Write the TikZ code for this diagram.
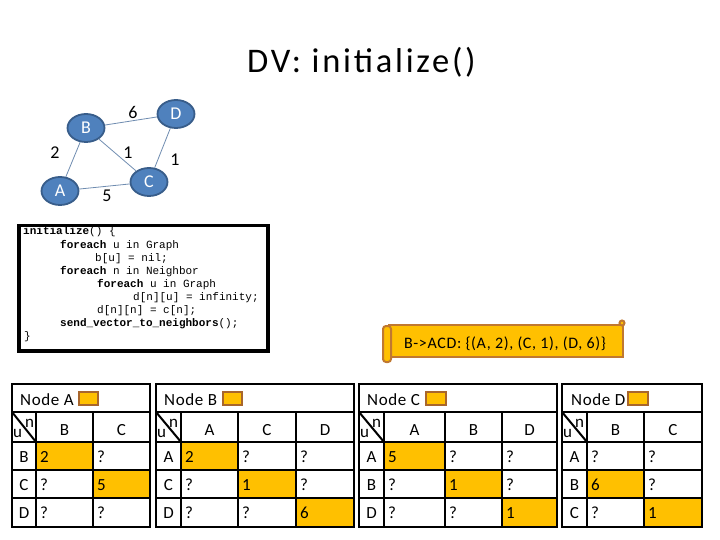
\documentclass[tikz,border=0pt]{standalone}
\usepackage{fontspec}
\setmainfont{Carlito}[LetterSpace=8]
\newfontfamily\tabfont{Carlito}[LetterSpace=3.5]
\newfontfamily\msgfont{Carlito}[LetterSpace=4]
\newfontfamily\codefont{Liberation Mono}
\usetikzlibrary{shapes.geometric}
\definecolor{nodeblue}{HTML}{4F81BD}
\definecolor{nodeborder}{HTML}{385D8A}
\definecolor{edgec}{HTML}{6F8CB0}
\definecolor{hl}{HTML}{FFC000}
\definecolor{scrollbrown}{HTML}{C07830}
\definecolor{iconbrown}{HTML}{A8662C}
\tikzset{
  titlef/.style={inner sep=0pt, font=\fontsize{34.5}{34.5}\selectfont},
  gnode/.style={ellipse, draw=nodeborder, line width=1.8pt, fill=nodeblue, minimum width=37pt, minimum height=28pt, inner sep=0pt, text=white, font=\fontsize{18}{18}\selectfont},
  gedge/.style={draw=edgec, line width=0.8pt},
  wlab/.style={inner sep=0pt, font=\fontsize{18}{18}\selectfont},
  codebox/.style={draw, line width=3.5pt, inner sep=0pt, anchor=north west, minimum width=249pt, minimum height=125pt},
  codeline/.style={anchor=base west, inner sep=0pt, font=\codefont\fontsize{11}{13}\selectfont},
  tline/.style={line width=2pt, black},
  tt/.style={inner sep=0pt, anchor=base, font=\tabfont\fontsize{17}{17}\selectfont},
  tv/.style={inner sep=0pt, anchor=base west, font=\tabfont\fontsize{17}{17}\selectfont},
  icon/.style={draw=iconbrown, line width=2.2pt, fill=hl},
  scrolln/.style={draw=scrollbrown, line width=2pt, fill=hl},
  msgf/.style={inner sep=0pt, anchor=base, font=\msgfont\fontsize{16}{16}\selectfont},
}
\begin{document}
\begin{tikzpicture}[x=1pt,y=-1pt]
\useasboundingbox (0,0) rectangle (720,540);
\fill[white] (0,0) rectangle (720,540);

% title
\node[titlef, anchor=base] (title) at (361.5,73) {DV: initialize()};

% graph
\node[gnode] (B) at (86,128) {B};
\node[gnode] (D) at (176,114) {D};
\node[gnode] (A) at (60,191) {A};
\node[gnode] (C) at (149,182) {C};
\draw[gedge] (A) -- (B);
\draw[gedge] (B) -- (D);
\draw[gedge] (B) -- (C);
\draw[gedge] (D) -- (C);
\draw[gedge] (A) -- (C);
\node[wlab] (wBD) at (133,112) {6};
\node[wlab] (wAB) at (55,153) {2};
\node[wlab] (wBC) at (128,153) {1};
\node[wlab] (wDC) at (175,160) {1};
\node[wlab] (wAC) at (107,196) {5};

% code
\node[codebox] (code) at (17,224) {};
\node[codeline] (c1) at (23,235) {\textbf{initialize}() \{};
\node[codeline] (c2) at (60,248) {\textbf{foreach} u in Graph};
\node[codeline] (c3) at (95,261) {b[u] = nil;};
\node[codeline] (c4) at (60,274) {\textbf{foreach} n in Neighbor};
\node[codeline] (c5) at (97,287) {\textbf{foreach} u in Graph};
\node[codeline] (c6) at (133,300) {d[n][u] = infinity;};
\node[codeline] (c7) at (97,313) {d[n][n] = c[n];};
\node[codeline] (c8) at (60,326) {\textbf{send\_vector\_to\_neighbors}();};
\node[codeline] (c9) at (24,339) {\}};

% message scroll
\draw[scrolln] (389,325) rectangle (623,357);
\draw[scrolln, rounded corners=3pt] (383,326) rectangle (391,362);
\draw[scrolln] (622,323) circle[radius=2.5pt];
\node[msgf] (msg) at (505,348) {B->ACD: \{(A, 2), (C, 1), (D, 6)\}};

% ---------- Table A ----------
\fill[hl] (36,442) rectangle (93,470);
\fill[hl] (93,470) rectangle (150,498);
\draw[tline] (12,384) rectangle (150,527);
\draw[tline] (12,412) -- (150,412) (12,442) -- (150,442) (12,470) -- (150,470) (12,498) -- (150,498);
\draw[tline] (36,412) -- (36,527) (93,412) -- (93,527);
\draw[tline] (12,412) -- (36,442);
\node[tv] (aT) at (20,405) {Node A};
\draw[icon] (79,392) rectangle (98,405);
\node[tv] (an) at (25,427) {n};
\node[tv] (au) at (13,437) {u};
\node[tt] (ahB) at (64.5,435) {B};
\node[tt] (ahC) at (121.5,435) {C};
\node[tt] (arB) at (24,462) {B};
\node[tt] (arC) at (24,490) {C};
\node[tt] (arD) at (24,518) {D};
\node[tv] (a11) at (40,462) {2};
\node[tv] (a12) at (97,462) {?};
\node[tv] (a21) at (40,490) {?};
\node[tv] (a22) at (97,490) {5};
\node[tv] (a31) at (40,518) {?};
\node[tv] (a32) at (97,518) {?};

% ---------- Table B ----------
\fill[hl] (181,442) rectangle (238,470);
\fill[hl] (238,470) rectangle (296,498);
\fill[hl] (296,498) rectangle (354,527);
\draw[tline] (156,384) rectangle (354,527);
\draw[tline] (156,412) -- (354,412) (156,442) -- (354,442) (156,470) -- (354,470) (156,498) -- (354,498);
\draw[tline] (181,412) -- (181,527) (238,412) -- (238,527) (296,412) -- (296,527);
\draw[tline] (156,412) -- (181,442);
\node[tv] (bT) at (164,405) {Node B};
\draw[icon] (223,392) rectangle (242,405);
\node[tv] (bn) at (169,427) {n};
\node[tv] (bu) at (157,437) {u};
\node[tt] (bhA) at (209.5,435) {A};
\node[tt] (bhC) at (267,435) {C};
\node[tt] (bhD) at (325,435) {D};
\node[tt] (brA) at (168.5,462) {A};
\node[tt] (brC) at (168.5,490) {C};
\node[tt] (brD) at (168.5,518) {D};
\node[tv] (b11) at (185,462) {2};
\node[tv] (b12) at (242,462) {?};
\node[tv] (b13) at (300,462) {?};
\node[tv] (b21) at (185,490) {?};
\node[tv] (b22) at (242,490) {1};
\node[tv] (b23) at (300,490) {?};
\node[tv] (b31) at (185,518) {?};
\node[tv] (b32) at (242,518) {?};
\node[tv] (b33) at (300,518) {6};

% ---------- Table C ----------
\fill[hl] (384,442) rectangle (445,470);
\fill[hl] (445,470) rectangle (502,498);
\fill[hl] (502,498) rectangle (557,527);
\draw[tline] (359,384) rectangle (557,527);
\draw[tline] (359,412) -- (557,412) (359,442) -- (557,442) (359,470) -- (557,470) (359,498) -- (557,498);
\draw[tline] (384,412) -- (384,527) (445,412) -- (445,527) (502,412) -- (502,527);
\draw[tline] (359,412) -- (384,442);
\node[tv] (cT) at (367,405) {Node C};
\draw[icon] (426,392) rectangle (446,405);
\node[tv] (cn) at (372,427) {n};
\node[tv] (cu) at (360,437) {u};
\node[tt] (chA) at (414.5,435) {A};
\node[tt] (chB) at (473.5,435) {B};
\node[tt] (chD) at (529.5,435) {D};
\node[tt] (crA) at (371.5,462) {A};
\node[tt] (crB) at (371.5,490) {B};
\node[tt] (crD) at (371.5,518) {D};
\node[tv] (c11) at (388,462) {5};
\node[tv] (c12) at (449,462) {?};
\node[tv] (c13) at (506,462) {?};
\node[tv] (c21) at (388,490) {?};
\node[tv] (c22) at (449,490) {1};
\node[tv] (c23) at (506,490) {?};
\node[tv] (c31) at (388,518) {?};
\node[tv] (c32) at (449,518) {?};
\node[tv] (c33) at (506,518) {1};

% ---------- Table D ----------
\fill[hl] (587,470) rectangle (644,498);
\fill[hl] (644,498) rectangle (702,527);
\draw[tline] (562,384) rectangle (702,527);
\draw[tline] (562,412) -- (702,412) (562,442) -- (702,442) (562,470) -- (702,470) (562,498) -- (702,498);
\draw[tline] (587,412) -- (587,527) (644,412) -- (644,527);
\draw[tline] (562,412) -- (587,442);
\node[tv] (dT) at (571,405) {Node D};
\draw[icon] (628,392) rectangle (648,405);
\node[tv] (dn) at (575,427) {n};
\node[tv] (du) at (563,437) {u};
\node[tt] (dhB) at (615.5,435) {B};
\node[tt] (dhC) at (673,435) {C};
\node[tt] (drA) at (574.5,462) {A};
\node[tt] (drB) at (574.5,490) {B};
\node[tt] (drC) at (574.5,518) {C};
\node[tv] (d11) at (591,462) {?};
\node[tv] (d12) at (648,462) {?};
\node[tv] (d21) at (591,490) {6};
\node[tv] (d22) at (648,490) {?};
\node[tv] (d31) at (591,518) {?};
\node[tv] (d32) at (648,518) {1};
\end{tikzpicture}
\end{document}
